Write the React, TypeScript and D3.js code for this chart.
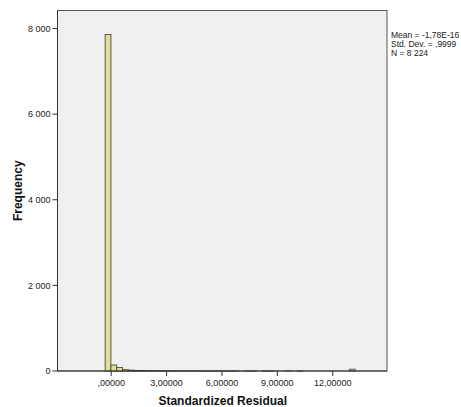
import * as d3 from 'd3'

// histogram bins (lower edge of the first bin, fixed bin width)
const BIN_START = -0.33
const BIN_WIDTH = 0.315
const COUNTS = [
  7860, 140, 80, 30, 20, 12, 10, 8, 6, 5, 4, 3, 3, 2, 2, 2, 1, 1, 1, 2,
  1, 1, 1, 0, 1, 1, 0, 1, 1, 0, 0, 1, 0, 1, 0, 0, 0, 0, 0, 0, 0, 0, 42
]
const X_TICKS = [0, 3, 6, 9, 12]
const Y_TICKS = [0, 2000, 4000, 6000, 8000]
const STATS = ['Mean = -1,78E-16', 'Std. Dev. = ,9999', 'N = 8 224']

const FONT = 'Arial, "Liberation Sans", sans-serif'

export default function App() {
  const width = 461
  const height = 407
  const left = 57.5
  const right = 387
  const top = 10.5
  const bottom = 371

  const x = d3.scaleLinear().domain([-2.91, 14.94]).range([left, right])
  const y = d3.scaleLinear().domain([0, 8421]).range([bottom, top])

  const fmtX = (v: number) => {
    const s = v.toFixed(5).replace('.', ',')
    return s.startsWith('0,') ? s.slice(1) : s
  }
  const fmtY = (v: number) => d3.format(',')(v).replace(/,/g, ' ')

  return (
    <svg
      width={width}
      height={height}
      style={{ position: 'absolute', left: 0, top: 0, background: '#fff' }}
      fontFamily={FONT}
    >
      <rect x={left} y={top} width={right - left} height={bottom - top} fill="#f0f0f0" stroke="#555" strokeWidth={1} />

      {/* bars */}
      {COUNTS.map((c, i) => {
        if (c === 0) return null
        const x0 = x(BIN_START + i * BIN_WIDTH)
        const x1 = x(BIN_START + (i + 1) * BIN_WIDTH)
        return (
          <rect
            key={i}
            x={x0}
            y={y(c)}
            width={x1 - x0}
            height={bottom - y(c)}
            fill="#e4dc9f"
            stroke="#3a3a2a"
            strokeWidth={0.8}
          />
        )
      })}

      {/* y axis */}
      {Y_TICKS.map(t => (
        <g key={t}>
          <line x1={left - 5} x2={left} y1={y(t)} y2={y(t)} stroke="#333" />
          <text x={left - 7} y={y(t)} dy="0.35em" textAnchor="end" fontSize={9} fill="#222">
            {fmtY(t)}
          </text>
        </g>
      ))}

      {/* x axis */}
      {X_TICKS.map(t => (
        <g key={t}>
          <line x1={x(t)} x2={x(t)} y1={bottom} y2={bottom + 5} stroke="#333" />
          <text x={x(t)} y={bottom + 15} textAnchor="middle" fontSize={9} fill="#222">
            {fmtX(t)}
          </text>
        </g>
      ))}

      <line x1={left} x2={right} y1={bottom} y2={bottom} stroke="#333" />
      <line x1={left} x2={left} y1={top} y2={bottom} stroke="#333" />

      <text x={(left + right) / 2 + 0.5} y={405} textAnchor="middle" fontSize={12} fontWeight="bold" fill="#111">
        Standardized Residual
      </text>
      <text
        transform={`translate(22, ${(top + bottom) / 2}) rotate(-90)`}
        textAnchor="middle"
        fontSize={12}
        fontWeight="bold"
        fill="#111"
      >
        Frequency
      </text>

      {STATS.map((s, i) => (
        <text key={s} x={391} y={38 + i * 9} fontSize={8.5} fill="#222">
          {s}
        </text>
      ))}
    </svg>
  )
}
